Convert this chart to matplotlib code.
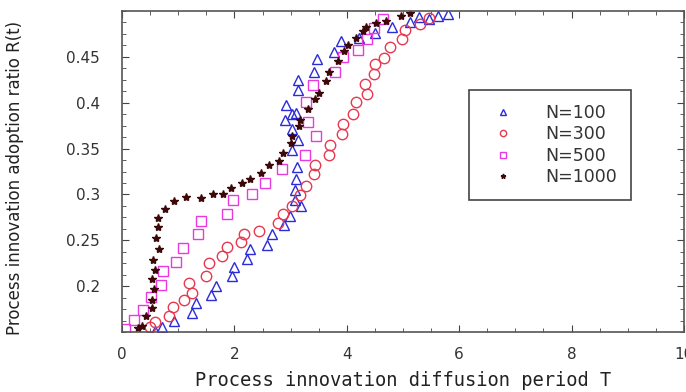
import numpy as np
import matplotlib.pyplot as plt
from matplotlib.ticker import MultipleLocator, AutoMinorLocator

# N=100 (triangles)
t100 = [0.59, 0.71, 0.92, 1.24, 1.32, 1.58, 1.67, 1.95, 1.99, 2.23, 2.28, 2.58,
        2.67, 2.88, 2.99, 3.19, 3.08, 3.07, 3.10, 3.11, 3.02, 3.13, 3.03, 2.90,
        3.02, 3.09, 2.92, 3.13, 3.13, 3.41, 3.46, 3.78, 3.90, 4.22, 4.50, 4.81,
        5.12, 5.29, 5.46, 5.62, 5.80]
r100 = [0.151, 0.155, 0.162, 0.171, 0.182, 0.190, 0.200, 0.211, 0.221, 0.230,
        0.241, 0.245, 0.257, 0.267, 0.276, 0.287, 0.294, 0.305, 0.317, 0.330,
        0.348, 0.359, 0.371, 0.381, 0.388, 0.389, 0.397, 0.414, 0.425, 0.434,
        0.448, 0.455, 0.467, 0.470, 0.476, 0.482, 0.488, 0.493, 0.491, 0.495,
        0.497]

# N=300 (circles)
t300 = [0.50, 0.59, 0.83, 0.91, 1.11, 1.24, 1.19, 1.50, 1.54, 1.77, 1.86, 2.12,
        2.17, 2.43, 2.77, 2.86, 3.02, 3.17, 3.28, 3.42, 3.43, 3.69, 3.70, 3.92,
        3.93, 4.11, 4.16, 4.36, 4.32, 4.48, 4.50, 4.66, 4.76, 4.99, 5.04, 5.30,
        5.47]
r300 = [0.156, 0.161, 0.168, 0.177, 0.185, 0.193, 0.203, 0.211, 0.225, 0.233,
        0.243, 0.248, 0.257, 0.260, 0.269, 0.279, 0.287, 0.299, 0.309, 0.322,
        0.332, 0.343, 0.354, 0.366, 0.377, 0.388, 0.401, 0.410, 0.420, 0.431,
        0.442, 0.449, 0.461, 0.469, 0.479, 0.486, 0.492]

# N=500 (squares)
t500 = [0.06, 0.21, 0.38, 0.52, 0.70, 0.73, 0.96, 1.09, 1.35, 1.41, 1.86, 1.97,
        2.31, 2.54, 2.85, 3.25, 3.45, 3.30, 3.27, 3.40, 3.79, 3.93, 4.20, 4.35,
        4.49, 4.64]
r500 = [0.153, 0.163, 0.174, 0.188, 0.201, 0.217, 0.226, 0.242, 0.257, 0.271,
        0.279, 0.294, 0.301, 0.312, 0.328, 0.343, 0.364, 0.379, 0.401, 0.419,
        0.434, 0.450, 0.457, 0.469, 0.481, 0.491]

# N=1000 (stars)
t1000 = [0.28, 0.35, 0.42, 0.53, 0.54, 0.56, 0.54, 0.58, 0.55, 0.66, 0.60, 0.64,
         0.64, 0.77, 0.93, 1.14, 1.41, 1.61, 1.79, 1.93, 2.13, 2.27, 2.47, 2.61,
         2.80, 2.86, 3.01, 3.03, 3.14, 3.17, 3.31, 3.44, 3.51, 3.63, 3.68, 3.84,
         3.95, 4.02, 4.16, 4.28, 4.34, 4.52, 4.70, 4.96, 5.12]
r1000 = [0.154, 0.157, 0.168, 0.176, 0.185, 0.197, 0.208, 0.218, 0.229, 0.240,
         0.253, 0.264, 0.274, 0.284, 0.293, 0.297, 0.296, 0.300, 0.301, 0.307,
         0.312, 0.317, 0.323, 0.332, 0.336, 0.345, 0.356, 0.364, 0.375, 0.381,
         0.393, 0.404, 0.411, 0.424, 0.434, 0.446, 0.456, 0.463, 0.471, 0.478,
         0.483, 0.487, 0.489, 0.495, 0.498]

fig = plt.figure(figsize=(6.86, 3.92), dpi=100)
ax = fig.add_axes([0.178, 0.153, 0.819, 0.819])

ax.plot(t100, r100, ls='none', marker='^', ms=7, mfc='none', mec='#2b2bd8',
        mew=1.0, label='N=100')
ax.plot(t300, r300, ls='none', marker='o', ms=7.5, mfc='none', mec='#e8384f',
        mew=1.0, label='N=300')
ax.plot(t500, r500, ls='none', marker='s', ms=7, mfc='none', mec='#e83ae0',
        mew=1.0, label='N=500')
ax.plot(t1000, r1000, ls='none', marker='*', ms=6, color='#3d0808',
        mec='#3d0808', label='N=1000')

ax.set_xlim(0, 10)
ax.set_ylim(0.15, 0.5)
ax.xaxis.set_major_locator(MultipleLocator(2))
ax.xaxis.set_minor_locator(MultipleLocator(0.5))
ax.set_yticks([0.2, 0.25, 0.3, 0.35, 0.4, 0.45])
ax.set_yticklabels(['0.2', '0.25', '0.3', '0.35', '0.4', '0.45'])
ax.yaxis.set_minor_locator(AutoMinorLocator(4))
ax.tick_params(which='both', direction='in', top=True, right=True,
               color='#444444', labelcolor='#333333', labelsize=11)
ax.tick_params(which='major', length=5)
ax.tick_params(which='minor', length=3)
ax.tick_params(axis='y', pad=16)
ax.tick_params(axis='x', pad=11)
for s in ax.spines.values():
    s.set_color('#555555')
    s.set_linewidth(1.2)

ax.set_xlabel('Process innovation diffusion period T', family='DejaVu Sans Mono',
              fontsize=13.5, color='#222222')
ax.xaxis.set_label_coords(0.5, -0.122)
ax.set_ylabel('Process innovation adoption ratio R(t)', fontsize=12,
              color='#222222')
ax.yaxis.set_label_coords(-0.175, 0.48)

leg = ax.legend(loc='upper left', bbox_to_anchor=(0.617, 0.754), fontsize=12.5,
                markerscale=0.6, fancybox=False, edgecolor='#444444',
                framealpha=1, borderpad=0.8, labelspacing=0.2,
                handlelength=2.4, handletextpad=1.2, borderaxespad=0)
leg.get_frame().set_linewidth(1.2)
for t in leg.get_texts():
    t.set_color('#333333')

fig.savefig('out.png', dpi=100)
